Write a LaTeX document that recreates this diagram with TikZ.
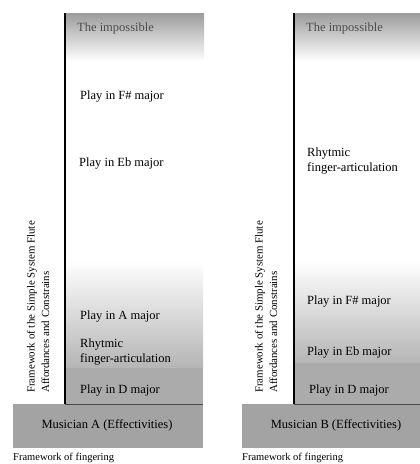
\documentclass[tikz,border=0pt]{standalone}
\usepackage{fontspec}
\setmainfont{Liberation Serif}
\begin{document}
\begin{tikzpicture}[x=1pt,y=-1pt,
    lbl/.style={anchor=west, inner sep=0pt, align=left,
      font=\fontsize{12.5}{15}\selectfont},
    sidelbl/.style={rotate=90, anchor=west, inner sep=0pt, align=left,
      font=\fontsize{10.9}{14.5}\selectfont},
    effbox/.style={fill=gray!72},
    band/.style={fill=gray!66}]
  \useasboundingbox (0,0) rectangle (420,464);
  % musician A
  \shade[top color=gray!78, bottom color=white] (65,13) rectangle (204,61);
  \shade[top color=white, bottom color=gray!58] (65,260) rectangle (203,368);
  \fill[band] (65,368) rectangle (203,404);
  \fill[effbox] (13,404) rectangle (203,448);
  \draw[gray!60!black, thin] (65,404) -- (203,404);
  \draw[line width=2pt] (65,13) -- (65,404);
  \node[lbl, text=black!70] (impA) at (77,28) {The impossible};
  \node[lbl] (fsharpA) at (80,97) {Play in F\# major};
  \node[lbl] (ebA) at (79,164) {Play in Eb major};
  \node[lbl] (amajA) at (80,317) {Play in A major};
  \node[lbl] (rhytA) at (80,352) {Rhytmic\\finger-articulation};
  \node[lbl] (dmajA) at (80,391) {Play in D major};
  \node[lbl, anchor=center] (musA) at (107,425) {Musician A (Effectivities)};
  \node[lbl, font=\fontsize{10.5}{12}\selectfont] (fingA) at (13,458) {Framework of fingering};
  \node[sidelbl] (sideA) at (38,393) {Framework of the Simple System Flute\\Affordances and Constrains};
  % musician B
  \shade[top color=gray!78, bottom color=white] (294,13) rectangle (420,61);
  \shade[top color=white, bottom color=gray!58] (294,260) rectangle (420,363);
  \fill[band] (294,363) rectangle (420,404);
  \fill[effbox] (242,404) rectangle (420,448);
  \draw[gray!60!black, thin] (294,404) -- (420,404);
  \draw[line width=2pt] (294,13) -- (294,404);
  \node[lbl, text=black!70] (impB) at (306,28) {The impossible};
  \node[lbl] (rhytB) at (307,161) {Rhytmic\\finger-articulation};
  \node[lbl] (fsharpB) at (307,302) {Play in F\# major};
  \node[lbl] (ebB) at (307,353) {Play in Eb major};
  \node[lbl] (dmajB) at (309,391) {Play in D major};
  \node[lbl, anchor=center] (musB) at (336,425) {Musician B (Effectivities)};
  \node[lbl, font=\fontsize{10.5}{12}\selectfont] (fingB) at (242,458) {Framework of fingering};
  \node[sidelbl] (sideB) at (266,393) {Framework of the Simple System Flute\\Affordances and Constrains};
\end{tikzpicture}
\end{document}
